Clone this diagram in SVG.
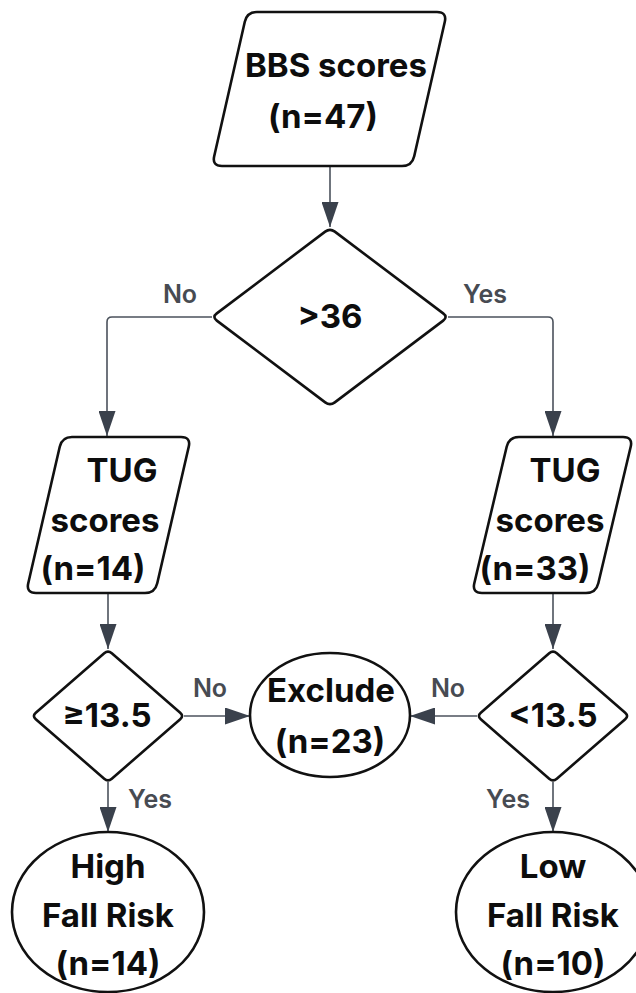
<svg xmlns="http://www.w3.org/2000/svg" width="636" height="993" viewBox="0 0 636 993">
<defs>
<style>
.node{fill:#fff;stroke:#111;stroke-width:2.6;stroke-linejoin:round}
.t{font-family:Inter,"Noto Sans","Liberation Sans",sans-serif;font-weight:700;font-size:33px;fill:#0d0d0d;text-anchor:middle}
.lbl{font-family:Inter,"Noto Sans","Liberation Sans",sans-serif;font-weight:600;font-size:25px;fill:#474b52;text-anchor:middle}
.edge{fill:none;stroke:#4b525c;stroke-width:1.6}
</style>
<marker id="arr" markerUnits="userSpaceOnUse" markerWidth="25" markerHeight="17" refX="25" refY="8.5" viewBox="0 0 25 17" orient="auto">
<path d="M0,0 L25,8.5 L0,17 Z" fill="#3a414c"/>
</marker>
</defs>
<rect width="636" height="993" fill="#fff"/>
<g id="connectors">
<path class="edge" d="M330,166 V227" marker-end="url(#arr)"/>
<path class="edge" d="M212,317 H112 Q107,317 107,322 V436" marker-end="url(#arr)"/>
<path class="edge" d="M448,317 H548 Q553,317 553,322 V436" marker-end="url(#arr)"/>
<path class="edge" d="M108,593 V649" marker-end="url(#arr)"/>
<path class="edge" d="M553,593 V649" marker-end="url(#arr)"/>
<path class="edge" d="M184,716 H250" marker-end="url(#arr)"/>
<path class="edge" d="M477,716 H410" marker-end="url(#arr)"/>
<path class="edge" d="M108,782 V832" marker-end="url(#arr)"/>
<path class="edge" d="M553,782 V832" marker-end="url(#arr)"/>
<text class="lbl" x="180" y="303">No</text>
<text class="lbl" x="485" y="303">Yes</text>
<text class="lbl" x="210" y="697">No</text>
<text class="lbl" x="448" y="697">No</text>
<text class="lbl" x="150" y="808">Yes</text>
<text class="lbl" x="508" y="808">Yes</text>
</g>
<g id="bbs">
<path class="node" d="M257,12 L437,12 Q447,12 444.8,21.75 L414.2,156.25 Q412,166 402,166 L222,166 Q212,166 214.2,156.25 L244.8,21.75 Q247,12 257,12 Z"/>
<text class="t" x="336" y="77">BBS scores</text>
<text class="t" x="323" y="128">(n=47)</text>
</g>
<g id="dec36">
<path class="node" d="M334.8,231.6 L443.2,313.4 Q448,317 443.2,320.6 L334.8,402.4 Q330,406 325.2,402.4 L216.8,320.6 Q212,317 216.8,313.4 L325.2,231.6 Q330,228 334.8,231.6 Z"/>
<text class="t" x="330" y="328">&gt;36</text>
</g>
<g id="tugLeft">
<path class="node" d="M72,437 L181,437 Q191,437 188.75,446.74 L157.25,583.26 Q155,593 145,593 L36,593 Q26,593 28.25,583.26 L59.75,446.74 Q62,437 72,437 Z"/>
<text class="t" x="122" y="482">TUG</text>
<text class="t" x="105" y="532">scores</text>
<text class="t" x="93" y="580">(n=14)</text>
</g>
<g id="tugRight">
<path class="node" d="M519,437 L623,437 Q633,437 630.69,446.73 L598.31,583.27 Q596,593 586,593 L482,593 Q472,593 474.31,583.27 L506.69,446.73 Q509,437 519,437 Z"/>
<text class="t" x="565" y="482">TUG</text>
<text class="t" x="550" y="532">scores</text>
<text class="t" x="535" y="580">(n=33)</text>
</g>
<g id="decLeft">
<path class="node" d="M111.8,653.3 L180.2,712.7 Q184,716 180.2,719.3 L111.8,778.7 Q108,782 104.2,778.7 L35.8,719.3 Q32,716 35.8,712.7 L104.2,653.3 Q108,650 111.8,653.3 Z"/>
<text class="t" x="107" y="727">≥13.5</text>
</g>
<g id="decRight">
<path class="node" d="M556.8,653.3 L625.2,712.7 Q629,716 625.2,719.3 L556.8,778.7 Q553,782 549.2,778.7 L480.8,719.3 Q477,716 480.8,712.7 L549.2,653.3 Q553,650 556.8,653.3 Z"/>
<text class="t" x="553" y="727">&lt;13.5</text>
</g>
<g id="exclude">
<ellipse class="node" cx="330" cy="715" rx="80" ry="62"/>
<text class="t" x="331" y="702">Exclude</text>
<text class="t" x="330" y="753">(n=23)</text>
</g>
<g id="highRisk">
<ellipse class="node" cx="108" cy="912" rx="96" ry="80"/>
<text class="t" x="108" y="878">High</text>
<text class="t" x="108" y="927">Fall Risk</text>
<text class="t" x="108" y="975">(n=14)</text>
</g>
<g id="lowRisk">
<ellipse class="node" cx="553" cy="912" rx="97" ry="80"/>
<text class="t" x="553" y="878">Low</text>
<text class="t" x="553" y="927">Fall Risk</text>
<text class="t" x="553" y="975">(n=10)</text>
</g>
</svg>
